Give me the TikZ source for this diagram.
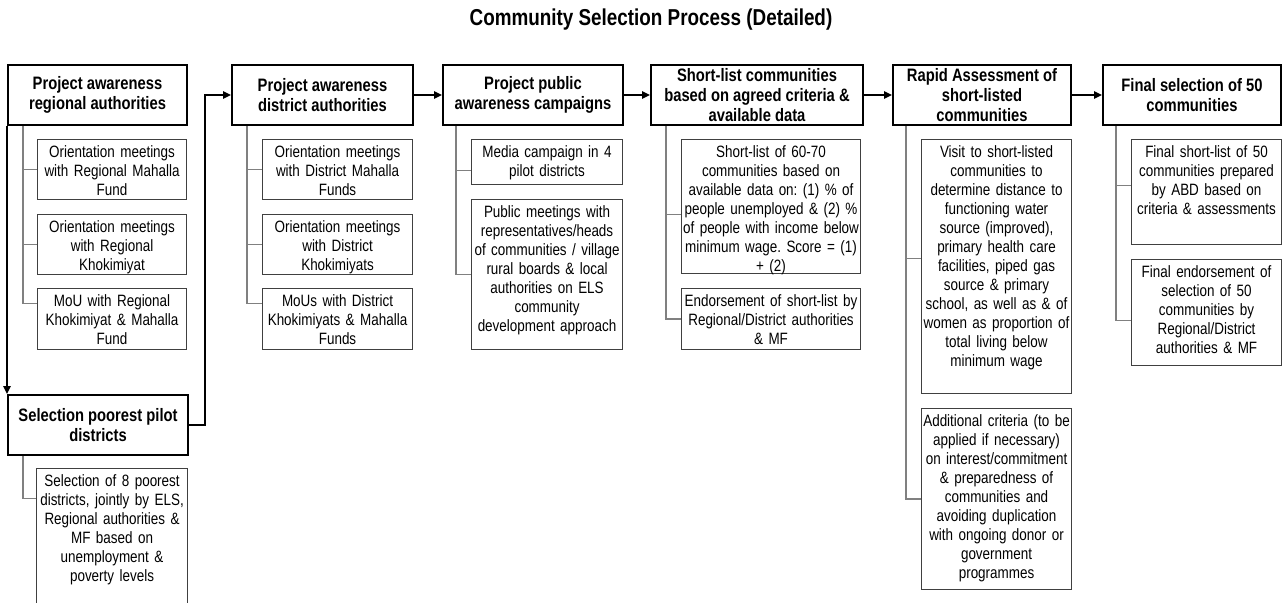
\documentclass[tikz,border=0pt]{standalone}
\usepackage{fontspec}
\usepackage{tikz}
\usetikzlibrary{arrows.meta}
\newfontfamily\narrowsans[FakeStretch=0.82]{Liberation Sans}
\frenchspacing

\begin{document}
\begin{tikzpicture}[x=0.75pt, y=-0.75pt, >={Triangle[length=6pt, width=5.5pt]},
    stage/.style={draw, line width=1.5pt, anchor=north west, minimum height=45pt, align=center, inner sep=1pt,
        font=\narrowsans\bfseries\fontsize{13.5pt}{15pt}\selectfont},
    task/.style={draw=black!75, line width=0.8pt, fill=white, anchor=north west, align=center, inner xsep=1pt, inner ysep=2pt,
        text height=11.3pt, font=\narrowsans\fontsize{12.3pt}{14.25pt}\selectfont},
    dims/.style 2 args={text width=#1, text depth=#2},
    link/.style={draw=black!50, line width=1.1pt},
    flow/.style={->, line width=1.1pt}]
    \useasboundingbox (0,0) rectangle (1285,603);
    \fill[white] (0,0) rectangle (1285,603);
    \clip (0,0) rectangle (1285,603);

    \node[font=\narrowsans\bfseries\fontsize{17.25pt}{20pt}\selectfont] at (651,20) (title) {Community Selection Process (Detailed)};

    % main stages
    \node[stage, minimum width=134.25pt] at (7,64) (s1) {Project awareness\\regional authorities};
    \node[stage, minimum width=135.75pt] at (231,64) (s2) {Project awareness\\district authorities};
    \node[stage, minimum width=135pt] at (442,64) (s3) {Project public\\awareness campaigns};
    \node[stage, minimum width=159pt] at (650,64) (s4) {Short-list communities\\based on agreed criteria \&\\available data};
    \node[stage, minimum width=133.5pt] at (892,64) (s5) {Rapid Assessment of\\short-listed\\communities};
    \node[stage, minimum width=133.5pt] at (1102,64) (s6) {Final selection of 50\\communities};
    \node[stage, minimum width=135pt] at (7,394) (s7) {Selection poorest pilot\\districts};

    % activities under each stage
    \node[task, dims={109.75pt}{29.7pt}] at (37,139) (c1a) {Orientation meetings\\with Regional Mahalla\\Fund};
    \node[task, dims={109.75pt}{29.7pt}] at (37,214) (c1b) {Orientation meetings\\with Regional\\Khokimiyat};
    \node[task, dims={109.75pt}{30.45pt}] at (37,288) (c1c) {MoU with Regional\\Khokimiyat \& Mahalla\\Fund};

    \node[task, dims={110.5pt}{29.7pt}] at (262,139) (c2a) {Orientation meetings\\with District Mahalla\\Funds};
    \node[task, dims={110.5pt}{29.7pt}] at (262,214) (c2b) {Orientation meetings\\with District\\Khokimiyats};
    \node[task, dims={110.5pt}{30.45pt}] at (262,288) (c2c) {MoUs with District\\Khokimiyats \& Mahalla\\Funds};

    \node[task, dims={111.25pt}{18.45pt}] at (471,139) (c3a) {Media campaign in 4\\pilot districts};
    \node[task, dims={111.25pt}{97.2pt}] at (471,199) (c3b) {Public meetings with\\representatives/heads\\of communities / village\\rural boards \& local\\authorities on ELS\\community\\development approach};

    \node[task, dims={132.25pt}{85.2pt}] at (681,139) (c4a) {Short-list of 60-70\\communities based on\\available data on: (1) \% of\\people unemployed \& (2) \%\\of people with income below\\minimum wage. Score = (1)\\+ (2)};
    \node[task, dims={132.25pt}{30.45pt}] at (681,288) (c4b) {Endorsement of short-list by\\Regional/District authorities\\\& MF};

    \node[task, dims={110.5pt}{175.2pt}] at (921,139) (c5a) {Visit to short-listed\\communities to\\determine distance to\\functioning water\\source (improved),\\primary health care\\facilities, piped gas\\source \& primary\\school, as well as \& of\\women as proportion of\\total living below\\minimum wage};
    \node[task, dims={110.5pt}{120.45pt}] at (921,408) (c5b) {Additional criteria (to be\\applied if necessary)\\on interest/commitment\\\& preparedness of\\communities and\\avoiding duplication\\with ongoing donor or\\government\\programmes};

    \node[task, dims={110.5pt}{63.45pt}] at (1131,139) (c6a) {Final short-list of 50\\communities prepared\\by ABD based on\\criteria \& assessments};
    \node[task, dims={110.5pt}{64.2pt}] at (1131,259) (c6b) {Final endorsement of\\selection of 50\\communities by\\Regional/District\\authorities \& MF};

    \node[task, dims={111.25pt}{98.7pt}] at (36,468) (c7a) {Selection of 8 poorest\\districts, jointly by ELS,\\Regional authorities \&\\MF based on\\unemployment \&\\poverty levels};

    % branches from each stage to its activities
    \draw[link] ([xshift=12pt]s1.south west) |- (c1a.west);
    \draw[link] ([xshift=12pt]s1.south west) |- (c1b.west);
    \draw[link] ([xshift=12pt]s1.south west) |- ([yshift=11.6pt]c1c.west);
    \draw[link] ([xshift=12pt]s2.south west) |- (c2a.west);
    \draw[link] ([xshift=12pt]s2.south west) |- (c2b.west);
    \draw[link] ([xshift=12pt]s2.south west) |- ([yshift=11.6pt]c2c.west);
    \draw[link] ([xshift=10.5pt]s3.south west) |- ([yshift=-6.4pt]c3a.west);
    \draw[link] ([xshift=10.5pt]s3.south west) |- (c3b.west);
    \draw[link] ([xshift=12pt]s4.south west) |- ([yshift=-6pt]c4a.west);
    \draw[link] ([xshift=12pt]s4.south west) |- (c4b.west);
    \draw[link] ([xshift=10.5pt]s5.south west) |- ([yshift=6pt]c5a.west);
    \draw[link] ([xshift=10.5pt]s5.south west) |- (c5b.west);
    \draw[link] ([xshift=10.5pt]s6.south west) |- ([yshift=5pt]c6a.west);
    \draw[link] ([xshift=10.5pt]s6.south west) |- ([yshift=-6pt]c6b.west);
    \draw[link] ([xshift=12pt]s7.south west) |- ([yshift=34.5pt]c7a.west);

    % process flow
    \draw[flow] (s1.south west) -- (s7.north west);
    \draw[flow] (s7.east) -- ++(12pt,0) |- (s2.west);
    \draw[flow] (s2) -- (s3);
    \draw[flow] (s3) -- (s4);
    \draw[flow] (s4) -- (s5);
    \draw[flow] (s5) -- (s6);
\end{tikzpicture}
\end{document}
